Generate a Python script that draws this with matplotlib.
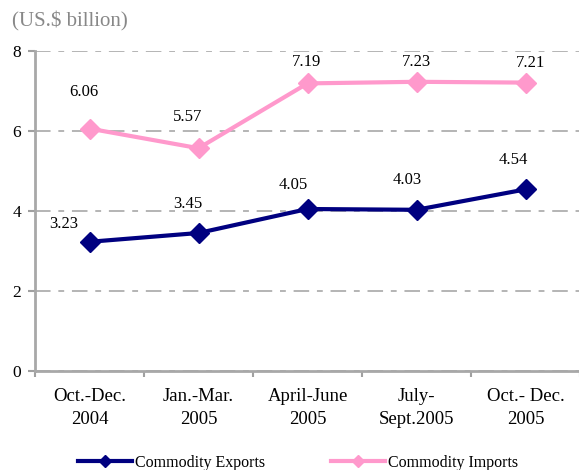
import matplotlib
matplotlib.use("Agg")
import matplotlib.pyplot as plt
from matplotlib.lines import Line2D

categories = ["Oct.-Dec.\n2004", "Jan.-Mar.\n2005", "April-June\n2005", "July-\nSept.2005", "Oct.- Dec.\n2005"]
exports = [3.23, 3.45, 4.05, 4.03, 4.54]
imports = [6.06, 5.57, 7.19, 7.23, 7.21]
series_names = ["Commodity Exports", "Commodity Imports"]
yticks = [0, 2, 4, 6, 8]

# label offsets in pixels (style)
exp_off = [(-26, 18), (-11, 29), (-14, 24), (-9, 30), (-12, 29)]
imp_off = [(-6, 37), (-11, 31), (-1, 21), (0, 20), (5, 20)]

plt.rcParams['font.family'] = ['Liberation Serif', 'DejaVu Serif']

fig = plt.figure(figsize=(5.79, 4.70), dpi=100)
ax = fig.add_axes([35/579, 1-371/470, 545/579, 320/470])

exp_c = "#000080"
imp_c = "#FF99CC"
x = list(range(len(categories)))

ax.set_ylim(0, 8)
ax.set_xlim(-0.5, len(categories) - 0.5)
ax.set_yticks(yticks)
ax.set_yticklabels([str(t) for t in yticks], fontsize=12.5)
ax.yaxis.grid(True, color="#b4b4b4", linewidth=1.4, dashes=(8, 4, 3, 4))
ax.set_axisbelow(True)

ax.plot(x, imports, color=imp_c, lw=3, marker="D", ms=10.5, mec=imp_c, zorder=3, clip_on=False)
ax.plot(x, exports, color=exp_c, lw=3, marker="D", ms=10.5, mec=exp_c, zorder=3, clip_on=False)

for i, v in enumerate(exports):
    ax.annotate(f"{v:.2f}", (i, v), xytext=exp_off[i], textcoords="offset pixels",
                ha="center", va="center", fontsize=12, color="black")
for i, v in enumerate(imports):
    ax.annotate(f"{v:.2f}", (i, v), xytext=imp_off[i], textcoords="offset pixels",
                ha="center", va="center", fontsize=12, color="black")

ax.set_xticks(x)
ax.set_xticklabels(categories, fontsize=13.5, linespacing=1.45)
ax.set_xticks([i - 0.5 for i in range(len(categories) + 1)], minor=True)
ax.tick_params(axis="x", which="major", length=0, pad=12)
ax.tick_params(axis="x", which="minor", length=4, color="#a0a0a0", width=1.5, direction="out")
ax.tick_params(axis="y", length=5, color="#a0a0a0", width=1.5, direction="out", pad=5)

for s in ["top", "right"]:
    ax.spines[s].set_visible(False)
for s in ["left", "bottom"]:
    ax.spines[s].set_color("#a8a8a8")
    ax.spines[s].set_linewidth(2)

fig.text(12/579, 1-21/470, "(US.$ billion)", fontsize=15, color="#888888", ha="left", va="center")

handles = [Line2D([0], [0], color=exp_c, lw=3, marker="D", ms=6),
           Line2D([0], [0], color=imp_c, lw=3, marker="D", ms=6)]
fig.legend(handles, series_names, loc="center", bbox_to_anchor=(298/579, 1-463/470), ncol=2,
           frameon=False, fontsize=11.5, handlelength=3.4, handletextpad=0.2, columnspacing=4.1,
           borderpad=0)

fig.savefig("out.png", dpi=100)
